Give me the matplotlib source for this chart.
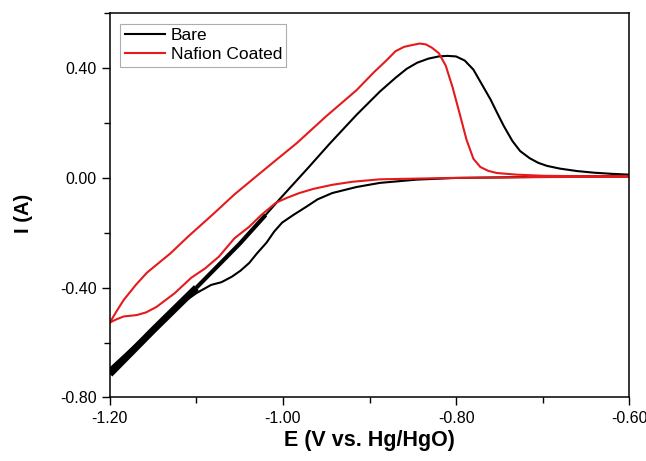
import matplotlib
matplotlib.use("Agg")
import matplotlib.pyplot as plt
import numpy as np
from matplotlib.ticker import MultipleLocator, FormatStrFormatter

plt.rcParams['font.family'] = ['Liberation Sans', 'DejaVu Sans']

# Bare electrode: forward (anodic) sweep
bare_fwd_E = [-1.200, -1.150, -1.100, -1.050, -1.020, -1.004, -0.970, -0.946, -0.915,
              -0.888, -0.870, -0.857, -0.845, -0.832, -0.820, -0.810, -0.800, -0.790,
              -0.780, -0.770, -0.760, -0.753, -0.745, -0.735, -0.726, -0.715, -0.705,
              -0.695, -0.680, -0.660, -0.640, -0.620, -0.600]
bare_fwd_I = [-0.715, -0.555, -0.400, -0.240, -0.135, -0.078, 0.040, 0.125, 0.230,
              0.315, 0.365, 0.398, 0.420, 0.435, 0.443, 0.445, 0.443, 0.428,
              0.395, 0.340, 0.285, 0.240, 0.190, 0.135, 0.098, 0.072, 0.055,
              0.044, 0.034, 0.025, 0.019, 0.015, 0.012]
# Bare electrode: reverse (cathodic) sweep
bare_rev_E = [-0.600, -0.700, -0.800, -0.845, -0.888, -0.915, -0.943, -0.960, -0.973,
              -0.988, -1.001, -1.010, -1.019, -1.030, -1.039, -1.049, -1.059, -1.071,
              -1.083, -1.100, -1.118, -1.150, -1.175, -1.200]
bare_rev_I = [0.008, 0.004, 0.000, -0.006, -0.018, -0.033, -0.055, -0.078, -0.105,
              -0.135, -0.163, -0.195, -0.236, -0.275, -0.310, -0.338, -0.360, -0.380,
              -0.390, -0.420, -0.460, -0.550, -0.622, -0.695]

# Nafion coated: forward sweep
naf_fwd_E = [-1.200, -1.192, -1.184, -1.170, -1.157, -1.130, -1.110, -1.080, -1.056,
             -1.035, -1.010, -0.984, -0.950, -0.915, -0.895, -0.880, -0.870, -0.860,
             -0.850, -0.842, -0.835, -0.828, -0.820, -0.812, -0.804, -0.796, -0.788,
             -0.780, -0.772, -0.763, -0.753, -0.730, -0.700, -0.650, -0.600]
naf_fwd_I = [-0.527, -0.485, -0.445, -0.390, -0.345, -0.275, -0.215, -0.130, -0.060,
             -0.005, 0.060, 0.127, 0.225, 0.320, 0.385, 0.430, 0.462, 0.478,
             0.485, 0.490, 0.487, 0.475, 0.455, 0.410, 0.330, 0.236, 0.140,
             0.070, 0.040, 0.026, 0.018, 0.012, 0.008, 0.006, 0.005]
# Nafion coated: reverse sweep
naf_rev_E = [-0.600, -0.700, -0.807, -0.888, -0.920, -0.943, -0.965, -0.981, -0.995,
             -1.008, -1.025, -1.039, -1.056, -1.074, -1.090, -1.106, -1.125, -1.146,
             -1.158, -1.169, -1.184, -1.192, -1.200]
naf_rev_I = [0.005, 0.003, 0.000, -0.005, -0.014, -0.025, -0.040, -0.055, -0.072,
             -0.090, -0.135, -0.178, -0.220, -0.287, -0.330, -0.364, -0.420, -0.470,
             -0.490, -0.500, -0.505, -0.515, -0.527]

labels = ["Bare", "Nafion Coated"]
colors = ["#000000", "#e41a1c"]

fig = plt.figure(figsize=(6.46, 4.61), dpi=100)
ax = fig.add_axes([0.170, 0.138, 0.804, 0.833])

bare_E = np.concatenate([bare_fwd_E, bare_rev_E])
bare_I = np.concatenate([bare_fwd_I, bare_rev_I])
naf_E = np.concatenate([naf_fwd_E, naf_rev_E])
naf_I = np.concatenate([naf_fwd_I, naf_rev_I])

ax.plot(bare_E, bare_I, color=colors[0], lw=1.5, label=labels[0])
# thick noisy band of the bare electrode at the cathodic limit
bfE = np.array(bare_fwd_E)
bfI = np.array(bare_fwd_I)
m1 = bfE <= -1.10
m2 = (bfE >= -1.10) & (bfE <= -1.02)
ax.plot(bfE[m1], bfI[m1], color=colors[0], lw=5.0, solid_capstyle='butt')
ax.plot(bfE[m2], bfI[m2], color=colors[0], lw=3.0, solid_capstyle='butt')
ax.plot(naf_E, naf_I, color=colors[1], lw=1.5, label=labels[1])

ax.set_xlim(-1.2, -0.6)
ax.set_ylim(-0.8, 0.6)
ax.xaxis.set_major_locator(MultipleLocator(0.2))
ax.xaxis.set_minor_locator(MultipleLocator(0.1))
ax.yaxis.set_major_locator(MultipleLocator(0.4))
ax.yaxis.set_minor_locator(MultipleLocator(0.2))
ax.xaxis.set_major_formatter(FormatStrFormatter('%.2f'))
ax.yaxis.set_major_formatter(FormatStrFormatter('%.2f'))
ax.tick_params(which='both', direction='out', top=False, right=False, labelsize=11.5)
ax.tick_params(which='major', length=6, width=1)
ax.tick_params(which='minor', length=4, width=1)
for s in ax.spines.values():
    s.set_linewidth(1.1)

ax.set_xlabel("E (V vs. Hg/HgO)", fontsize=15.5, fontweight='bold')
ax.set_ylabel("I (A)", fontsize=14.5, fontweight='bold')
ax.xaxis.set_label_coords(0.5, -0.086)
ax.yaxis.set_label_coords(-0.148, 0.48)

leg = ax.legend(loc='upper left', fontsize=12.5, frameon=True, fancybox=False,
                edgecolor='#999999', borderpad=0.25, handlelength=2.35,
                handletextpad=0.3, labelspacing=0.22, borderaxespad=0.6)
leg.get_frame().set_linewidth(0.8)

fig.savefig("out.png", dpi=100)
